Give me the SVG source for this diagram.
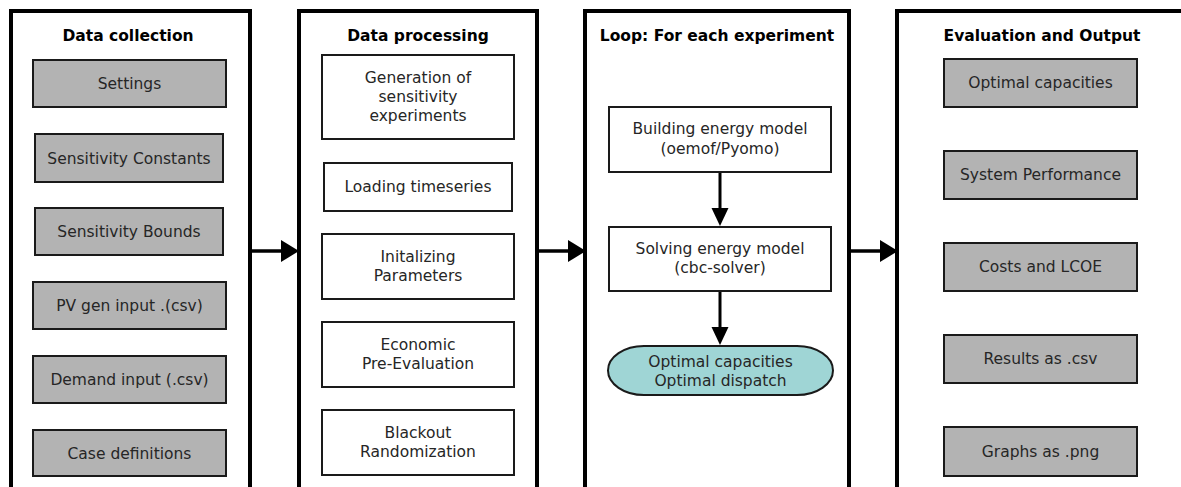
<svg xmlns="http://www.w3.org/2000/svg" width="1181" height="487" viewBox="0 0 1181 487">
<style>
.panel{fill:#fff;stroke:#000;stroke-width:4}
.gray{fill:#b3b3b3;stroke:#1a1a1a;stroke-width:2}
.white{fill:#fff;stroke:#1a1a1a;stroke-width:2}
.oval{fill:#9fd5d5;stroke:#1a1a1a;stroke-width:2}
.t{font-family:"DejaVu Sans",sans-serif;font-size:15.5px;fill:#262626;text-anchor:middle}
.h{font-family:"DejaVu Sans",sans-serif;font-size:15.5px;font-weight:bold;fill:#000;text-anchor:middle}
.c{fill:none;stroke:#000}
.ah{fill:#000}
</style>
<rect width="1181" height="487" fill="#fff"/>

<g id="panel-data-collection">
<path class="panel" d="M11,490 V11 H250 V490"/>
<text class="h" x="128" y="41">Data collection</text>
</g>
<g id="panel-data-processing">
<path class="panel" d="M299,490 V11 H537 V490"/>
<text class="h" x="418" y="41">Data processing</text>
</g>
<g id="panel-loop">
<path class="panel" d="M585,490 V11 H849 V490"/>
<text class="h" x="717" y="41">Loop: For each experiment</text>
</g>
<g id="panel-evaluation">
<path class="panel" d="M897,490 V11 H1190"/>
<text class="h" x="1042" y="41">Evaluation and Output</text>
</g>

<g id="settings"><rect class="gray" x="33" y="60" width="193" height="47"/><text class="t" x="129.5" y="89">Settings</text></g>
<g id="sens-constants"><rect class="gray" x="35" y="134" width="188" height="48"/><text class="t" x="129" y="163.5">Sensitivity Constants</text></g>
<g id="sens-bounds"><rect class="gray" x="35" y="208" width="188" height="47"/><text class="t" x="129" y="237">Sensitivity Bounds</text></g>
<g id="pv-input"><rect class="gray" x="33" y="282" width="193" height="47"/><text class="t" x="129.5" y="311">PV gen input .(csv)</text></g>
<g id="demand-input"><rect class="gray" x="33" y="356" width="193" height="47"/><text class="t" x="129.5" y="385">Demand input (.csv)</text></g>
<g id="case-defs"><rect class="gray" x="33" y="430" width="193" height="46"/><text class="t" x="129.5" y="458.5">Case definitions</text></g>

<g id="gen-experiments"><rect class="white" x="322" y="55" width="192" height="84"/>
<text class="t" x="418" y="83">Generation of</text><text class="t" x="418" y="102">sensitivity</text><text class="t" x="418" y="121">experiments</text></g>
<g id="loading-ts"><rect class="white" x="324" y="163" width="188" height="48"/><text class="t" x="418" y="192">Loading timeseries</text></g>
<g id="init-params"><rect class="white" x="322" y="234" width="192" height="65"/>
<text class="t" x="418" y="262">Initalizing</text><text class="t" x="418" y="281">Parameters</text></g>
<g id="econ-pre"><rect class="white" x="322" y="322" width="192" height="65"/>
<text class="t" x="418" y="350">Economic</text><text class="t" x="418" y="369">Pre-Evaluation</text></g>
<g id="blackout"><rect class="white" x="322" y="410" width="192" height="65"/>
<text class="t" x="418" y="438">Blackout</text><text class="t" x="418" y="457">Randomization</text></g>

<g id="build-model"><rect class="white" x="609" y="107" width="222" height="65"/>
<text class="t" x="720" y="134">Building energy model</text><text class="t" x="720" y="154">(oemof/Pyomo)</text></g>
<g id="solve-model"><rect class="white" x="609" y="227" width="222" height="64"/>
<text class="t" x="720" y="254">Solving energy model</text><text class="t" x="720" y="273">(cbc-solver)</text></g>
<g id="optimal-result"><rect class="oval" x="608" y="346" width="225" height="49" rx="36" ry="24.5"/>
<text class="t" x="720.5" y="366.5">Optimal capacities</text><text class="t" x="720.5" y="385.5">Optimal dispatch</text></g>

<g id="opt-capacities"><rect class="gray" x="944" y="59" width="193" height="48"/><text class="t" x="1040.5" y="88">Optimal capacities</text></g>
<g id="sys-perf"><rect class="gray" x="944" y="151" width="193" height="48"/><text class="t" x="1040.5" y="180">System Performance</text></g>
<g id="costs-lcoe"><rect class="gray" x="944" y="243" width="193" height="48"/><text class="t" x="1040.5" y="272">Costs and LCOE</text></g>
<g id="results-csv"><rect class="gray" x="944" y="335" width="193" height="48"/><text class="t" x="1040.5" y="364">Results as .csv</text></g>
<g id="graphs-png"><rect class="gray" x="944" y="427" width="193" height="49"/><text class="t" x="1040.5" y="456.5">Graphs as .png</text></g>

<g id="connectors">
<line class="c" x1="252" y1="251" x2="283" y2="251" stroke-width="3.5"/>
<path class="ah" d="M281,240 L299,251 L281,262 z"/>
<line class="c" x1="539" y1="251" x2="570" y2="251" stroke-width="3.5"/>
<path class="ah" d="M568,240 L586,251 L568,262 z"/>
<line class="c" x1="851" y1="251" x2="882" y2="251" stroke-width="3.5"/>
<path class="ah" d="M880,240 L898,251 L880,262 z"/>
<line class="c" x1="720" y1="173" x2="720" y2="210" stroke-width="3"/>
<path class="ah" d="M711.5,208 L720,226 L728.5,208 z"/>
<line class="c" x1="720" y1="292" x2="720" y2="328" stroke-width="3"/>
<path class="ah" d="M711.5,327 L720,345 L728.5,327 z"/>
</g>
</svg>
